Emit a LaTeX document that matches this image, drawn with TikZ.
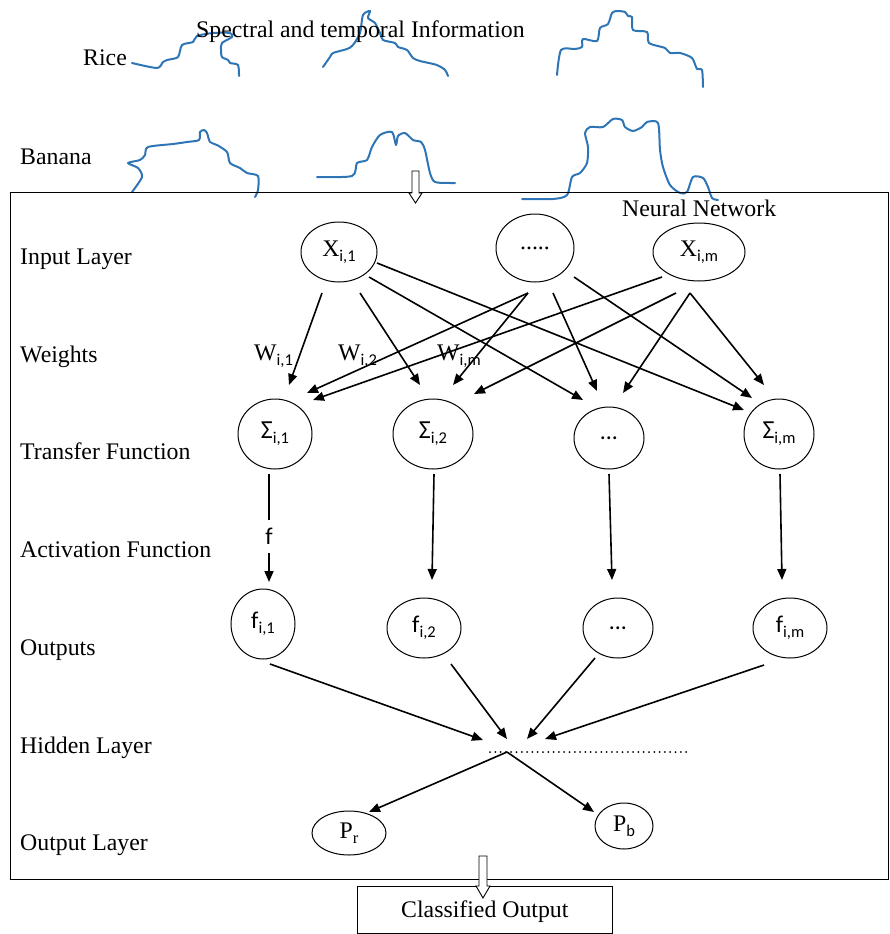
\documentclass[tikz,border=0pt]{standalone}
\usepackage{fontspec}
\setmainfont{Liberation Serif}
\newfontfamily\calfont{Carlito}
\usetikzlibrary{arrows.meta,calc,shapes.geometric}
\definecolor{specblue}{RGB}{46,117,182}
% subscripts: sans and serif variants
\newcommand\sbs[1]{\raisebox{-5pt}{\calfont\fontsize{16.5}{16.5}\selectfont #1}}
\newcommand\sbr[1]{\raisebox{-5pt}{\fontsize{16.5}{16.5}\selectfont #1}}
\newcommand\sig[1]{{\calfont\fontsize{26}{26}\selectfont Σ}\sbs{#1}}
\newcommand\fun[1]{{\calfont\fontsize{24}{24}\selectfont f}\sbs{#1}}
\begin{document}
\begin{tikzpicture}[x=1pt,y=-1pt,
  every node/.style={font=\fontsize{23.8}{28}\selectfont},
  lbl/.style={anchor=base west,inner sep=0pt},
  neuron/.style={draw,ellipse,line width=1pt,inner sep=0pt},
  arr/.style={line width=1.6pt,-{Triangle[length=11pt,width=9pt]}},
  con/.style={line width=1.3pt},
  hollow/.style={draw,fill=white,line width=0.9pt,line join=miter},
  spec/.style={draw=specblue,line width=2pt,line cap=round,line join=round,smooth,tension=0.45}]
\useasboundingbox (0,0) rectangle (889,934);

% spectral-temporal profiles
\draw[spec] plot coordinates {(132,63) (157,68) (163,62) (167,60) (178,57) (182,45) (193,42) (197,36) (213,33) (230,33) (232,37) (222,43) (221,50) (222,57) (228,60) (230,63) (238,65) (239,76)};
\draw[spec] plot coordinates {(323,67) (330,57) (333,53) (347,49) (353,45) (360,33) (363,15) (370,11) (368,18) (375,23) (380,33) (383,40) (395,43) (398,47) (407,50) (413,58) (420,61) (437,65) (445,70) (448,76)};
\draw[spec] plot coordinates {(557,75) (561,50) (575,49) (582,47) (583,39) (597,41) (600,28) (608,24) (612,13) (617,11) (625,12) (628,16) (632,17) (633,30) (647,32) (649,43) (665,48) (670,53) (680,53) (692,58) (697,69) (702,70) (703,87)};
\draw[spec] plot coordinates {(132,192) (142,177) (138,168) (128,163) (140,160) (145,155) (148,147) (173,144) (187,142) (199,140) (200,132) (204,130) (207,133) (210,142) (217,145) (227,152) (230,163) (240,168) (247,173) (258,176) (258,190) (255,197)};
\draw[spec] plot coordinates {(317,177) (352,176) (357,163) (367,160) (372,147) (380,135) (392,132) (396,145) (398,136) (405,133) (413,140) (421,142) (425,150) (430,173) (435,182) (450,183) (455,183)};
\draw[spec] plot coordinates {(522,199) (553,199) (567,195) (572,177) (580,173) (587,163) (588,147) (585,133) (590,127) (603,127) (613,119) (622,120) (625,127) (633,131) (642,127) (647,122) (658,123) (660,150) (663,167) (670,185) (680,193) (687,192) (693,177) (703,178) (708,187) (712,198) (718,200)};

% top labels
\node[lbl] (title) at (196,38) {Spectral and temporal Information};
\node[lbl] (rice) at (83,66) {Rice};
\node[lbl] (banana) at (20,164) {Banana};

% network frame
\draw[line width=1pt] (10,192) rectangle (888,879);
\node[lbl] (nn) at (622,216) {Neural Network};

% hollow arrow into the network
\draw[hollow] (412,171) -- (419,171) -- (419,193) -- (422,193) -- (415.5,203) -- (409,193) -- (412,193) -- cycle;

% layer names
\node[lbl] (lin) at (20,264) {Input Layer};
\node[lbl] (lw) at (20,362) {Weights};
\node[lbl] (ltf) at (20,459) {Transfer Function};
\node[lbl] (laf) at (20,557) {Activation Function};
\node[lbl] (lout) at (20,655) {Outputs};
\node[lbl] (lhid) at (20,753) {Hidden Layer};
\node[lbl] (lol) at (20,850) {Output Layer};

% input layer
\node[neuron,minimum width=76pt,minimum height=60pt] (x1) at (339,252) {X\sbs{i,1}};
\node[neuron,minimum width=78pt,minimum height=68pt] (dd) at (535,248) {.....};
\node[neuron,minimum width=92pt,minimum height=58pt] (xm) at (699,252) {X\sbs{i,m}};

% transfer functions
\node[neuron,minimum width=74pt,minimum height=70pt] (s1) at (275,434) {\sig{i,1}};
\node[neuron,minimum width=80pt,minimum height=70pt] (s2) at (433,434) {\sig{i,2}};
\node[neuron,minimum width=70pt,minimum height=62pt] (s3) at (609,438) {\calfont ...};
\node[neuron,minimum width=70pt,minimum height=70pt] (sm) at (779,434) {\sig{i,m}};

% outputs
\node[neuron,minimum width=64pt,minimum height=70pt] (f1) at (263,624) {\fun{i,1}};
\node[neuron,minimum width=74pt,minimum height=60pt] (f2) at (424,628) {\fun{i,2}};
\node[neuron,minimum width=70pt,minimum height=60pt] (f3) at (618,628) {\calfont ...};
\node[neuron,minimum width=74pt,minimum height=60pt] (fm) at (790,628) {\fun{i,m}};

% class probabilities
\node[neuron,minimum width=74pt,minimum height=44pt] (pr) at (349,833) {P\sbr{r}};
\node[neuron,minimum width=58pt,minimum height=46pt] (pb) at (624,826) {P\sbs{b}};

% weights
\node[lbl] (w1) at (254,360) {W\sbs{i,1}};
\node[lbl] (w2) at (338,360) {W\sbs{i,2}};
\node[lbl] (wm) at (437,360) {W\sbs{i,m}};

% weighted connections
\draw[arr] ($(x1)+(-17,41)$) -- ($(s1)+(14,-49)$);
\draw[arr] ($(x1)+(21,41)$) -- ($(s2)+(-13,-49)$);
\draw[arr] ($(x1)+(30,25)$) -- ($(s3)+(-26,-38)$);
\draw[arr] ($(x1)+(38,11)$) -- ($(sm)+(-35,-24)$);
\draw[arr] ($(dd)+(-7,45)$) -- ($(s1)+(32,-41)$);
\draw[arr] ($(dd)+(-7,45)$) -- ($(s2)+(20,-49)$);
\draw[arr] ($(dd)+(18,45)$) -- ($(s3)+(-12,-47)$);
\draw[arr] ($(dd)+(39,29)$) -- ($(sm)+(-27,-36)$);
\draw[arr] ($(xm)+(-37,25)$) -- ($(s1)+(38,-34)$);
\draw[arr] ($(xm)+(-23,41)$) -- ($(s2)+(41,-40)$);
\draw[arr] ($(xm)+(-9,41)$) -- ($(s3)+(14,-45)$);
\draw[arr] ($(xm)+(-9,41)$) -- ($(sm)+(-15,-49)$);

% activation
\node[inner sep=0pt,font=\calfont\fontsize{24}{24}\selectfont] (flab) at (269,536) {f};
\draw[con] ($(s1)+(-6,40)$) -- ($(flab)+(0,-16)$);
\draw[arr] ($(flab)+(0,17)$) -- ($(f1)+(6,-42)$);
\draw[arr] ($(s2)+(1,40)$) -- ($(f2)+(8,-48)$);
\draw[arr] ($(s3)+(0,36)$) -- ($(f3)+(-6,-48)$);
\draw[arr] ($(sm)+(1,40)$) -- ($(fm)+(-8,-48)$);

% hidden layer
\coordinate (hid) at (507,752);
\coordinate (hend) at (690,752);
\draw[arr] ($(f1)+(7,40)$) -- ($(hid)+(-24,-12)$);
\draw[arr] ($(f2)+(27,36)$) -- ($(hid)+(0,-13)$);
\draw[arr] ($(f3)+(-23,30)$) -- ($(hid)+(20,-13)$);
\draw[arr] ($(fm)+(-26,37)$) -- ($(hid)+(38,-13)$);
\draw[line width=2pt,line cap=round,dash pattern=on 0pt off 5.3pt] ($(hid)+(-17,0)$) -- (hend);
\draw[arr] (hid) -- ($(pr)+(20,-21)$);
\draw[arr] (hid) -- ($(pb)+(-30,-14)$);

% classified output
\node[draw,line width=1pt,minimum width=255pt,minimum height=47pt,inner sep=0pt] (co) at (484.5,909.5) {};
\node[lbl] (cot) at (401,917) {Classified Output};
\draw[hollow] (479,856) -- (487,856) -- (487,886) -- (490,886) -- (483,898) -- (476,886) -- (479,886) -- cycle;
\end{tikzpicture}
\end{document}
